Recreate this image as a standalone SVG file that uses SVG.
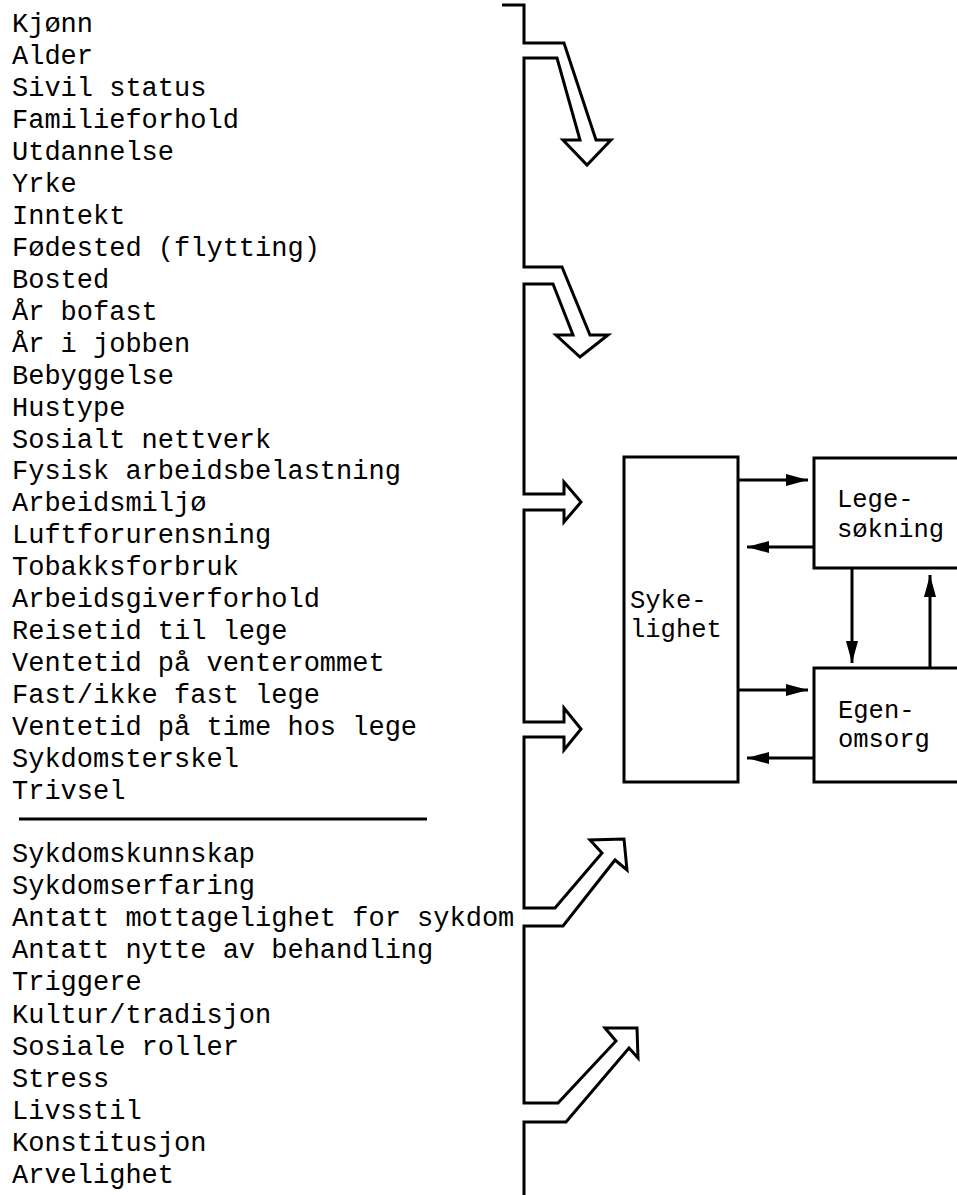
<svg xmlns="http://www.w3.org/2000/svg" width="957" height="1195" viewBox="0 0 957 1195">
<style>
.t{font-family:"Liberation Mono","Courier New",monospace;font-size:27px;fill:#000}
.b{font-family:"Liberation Mono","Courier New",monospace;font-size:25.5px;fill:#000}
.ln{fill:none;stroke:#000;stroke-width:3;stroke-linejoin:miter}
.box{fill:#fff;stroke:#000;stroke-width:3}
</style>
<defs>
<marker id="ah" markerUnits="userSpaceOnUse" markerWidth="24" markerHeight="14" refX="22" refY="7" orient="auto">
<path d="M0,1 L22,7 L0,13 z" fill="#000"/>
</marker>
</defs>
<rect width="957" height="1195" fill="#fff"/>
<g id="factors-a">
<text class="t" x="12" y="32">Kjønn</text>
<text class="t" x="12" y="64">Alder</text>
<text class="t" x="12" y="95.9">Sivil status</text>
<text class="t" x="12" y="127.9">Familieforhold</text>
<text class="t" x="12" y="159.8">Utdannelse</text>
<text class="t" x="12" y="191.8">Yrke</text>
<text class="t" x="12" y="223.8">Inntekt</text>
<text class="t" x="12" y="255.7">Fødested (flytting)</text>
<text class="t" x="12" y="287.7">Bosted</text>
<text class="t" x="12" y="319.6">År bofast</text>
<text class="t" x="12" y="351.6">År i jobben</text>
<text class="t" x="12" y="383.6">Bebyggelse</text>
<text class="t" x="12" y="415.5">Hustype</text>
<text class="t" x="12" y="447.5">Sosialt nettverk</text>
<text class="t" x="12" y="479.4">Fysisk arbeidsbelastning</text>
<text class="t" x="12" y="511.4">Arbeidsmiljø</text>
<text class="t" x="12" y="543.4">Luftforurensning</text>
<text class="t" x="12" y="575.3">Tobakksforbruk</text>
<text class="t" x="12" y="607.3">Arbeidsgiverforhold</text>
<text class="t" x="12" y="639.2">Reisetid til lege</text>
<text class="t" x="12" y="671.2">Ventetid på venterommet</text>
<text class="t" x="12" y="703.2">Fast/ikke fast lege</text>
<text class="t" x="12" y="735.1">Ventetid på time hos lege</text>
<text class="t" x="12" y="767.1">Sykdomsterskel</text>
<text class="t" x="12" y="799">Trivsel</text>
</g>
<g id="separator">
<line x1="19" y1="819" x2="427" y2="819" stroke="#000" stroke-width="3"/>
</g>
<g id="factors-b">
<text class="t" x="12" y="862">Sykdomskunnskap</text>
<text class="t" x="12" y="894.1">Sykdomserfaring</text>
<text class="t" x="12" y="926.2">Antatt mottagelighet for sykdom</text>
<text class="t" x="12" y="958.3">Antatt nytte av behandling</text>
<text class="t" x="12" y="990.4">Triggere</text>
<text class="t" x="12" y="1022.5">Kultur/tradisjon</text>
<text class="t" x="12" y="1054.6">Sosiale roller</text>
<text class="t" x="12" y="1086.7">Stress</text>
<text class="t" x="12" y="1118.8">Livsstil</text>
<text class="t" x="12" y="1150.9">Konstitusjon</text>
<text class="t" x="12" y="1183">Arvelighet</text>
</g>
<g id="sykelighet">
<rect class="box" x="624" y="457" width="114" height="325"/>
<text class="b" x="630" y="608">Syke-</text>
<text class="b" x="630" y="637">lighet</text>
</g>
<g id="legesokning">
<rect class="box" x="814" y="458" width="150" height="110"/>
<text class="b" x="837" y="507">Lege-</text>
<text class="b" x="837" y="537">søkning</text>
</g>
<g id="egenomsorg">
<rect class="box" x="814" y="668" width="150" height="114"/>
<text class="b" x="838" y="718">Egen-</text>
<text class="b" x="838" y="747">omsorg</text>
</g>
<g id="connectors">
<path class="ln" d="M502,5 H524 V43 H564 L596,140 H611 L587,165 L563,140 H580 L557,58 H524 V267 H562 L590,335 H608 L580,357 L556,335 H573 L553,284 H524 V494 H564 V482 L581,502 L564,522 V510 H524 V722 H564 V708 L581,729 L564,750 V737 H524 V908 H555 L602,853 L590,840 L624,839 L627,870 L615,860 L563,926 H524 V1103 H558 L616,1041 L605,1028 L637,1028 L638,1058 L629,1048 L566,1122 H524 V1195"/>
<line class="ln" x1="738" y1="480" x2="808" y2="480" marker-end="url(#ah)"/>
<line class="ln" x1="814" y1="547" x2="747" y2="547" marker-end="url(#ah)"/>
<line class="ln" x1="852" y1="568" x2="852" y2="663" marker-end="url(#ah)"/>
<line class="ln" x1="930" y1="668" x2="930" y2="575" marker-end="url(#ah)"/>
<line class="ln" x1="738" y1="690" x2="808" y2="690" marker-end="url(#ah)"/>
<line class="ln" x1="814" y1="758" x2="747" y2="758" marker-end="url(#ah)"/>
</g>
</svg>
